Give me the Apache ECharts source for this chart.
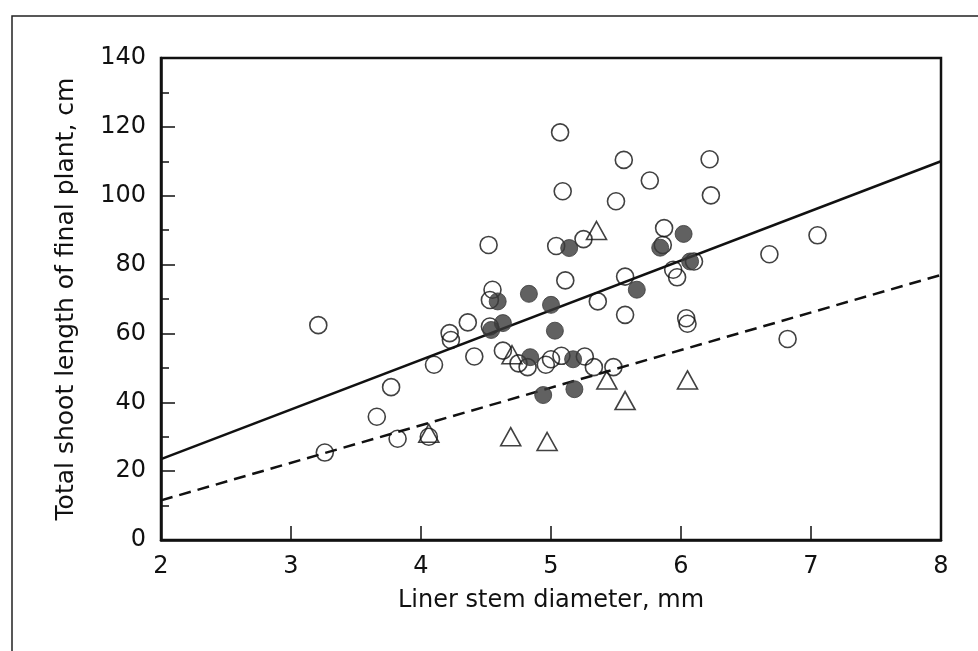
<!DOCTYPE html>
<html><head><meta charset="utf-8">
<script src="https://cdn.jsdelivr.net/npm/echarts@6/dist/echarts.min.js"></script>
<style>html,body{margin:0;padding:0;background:#fff}#c{width:978px;height:651px}</style>
</head><body><div id="c"></div>
<script>
var xTicks = [2,3,4,5,6,7,8];
var yTicks = [0,20,40,60,80,100,120,140];
var openCircles = [[3.21,62.4],[3.26,25.4],[3.66,35.8],[3.77,44.4],[3.82,29.4],[4.06,30.0],[4.10,50.9],[4.22,60.1],[4.23,58.1],[4.36,63.2],[4.41,53.3],[4.52,85.7],[4.55,72.7],[4.53,69.7],[4.53,62.0],[4.63,55.0],[4.75,51.3],[4.82,50.2],[4.96,50.9],[5.00,52.5],[5.08,53.5],[5.26,53.3],[5.33,50.2],[5.48,50.2],[5.07,118.4],[5.56,110.4],[5.09,101.3],[5.50,98.4],[5.04,85.4],[5.25,87.4],[5.11,75.4],[5.57,76.5],[5.36,69.3],[5.57,65.4],[6.22,110.6],[5.76,104.4],[6.23,100.1],[5.87,90.6],[5.86,85.7],[6.10,80.9],[5.94,78.5],[5.97,76.3],[6.04,64.4],[6.05,62.8],[7.05,88.5],[6.68,83.0],[6.82,58.4]];
var filledCircles = [[5.14,84.8],[4.83,71.5],[4.59,69.3],[5.00,68.3],[5.66,72.7],[4.54,61.0],[4.63,63.0],[5.03,60.8],[4.84,53.1],[5.17,52.5],[4.94,42.1],[5.18,43.8],[6.02,88.9],[5.84,84.9],[6.07,80.9]];
var triangles = [[4.06,31.0],[5.35,89.9],[4.70,53.8],[5.43,46.5],[5.57,40.5],[4.69,30.0],[4.97,28.6],[6.05,46.5]];
var solidFit = [[2,23.5],[8,110]];
var dashedFit = [[2,11.5],[8,77]];
var xTitle = 'Liner stem diameter, mm';
var yTitle = 'Total shoot length of final plant, cm';

var chart = echarts.init(document.getElementById('c'), null, {renderer:'canvas'});
var font = 'DejaVu Sans, sans-serif';
chart.setOption({
  backgroundColor:'#fff',
  animation:false,
  graphic:[{type:'rect', shape:{x:12,y:16,width:1000,height:700}, style:{fill:'none', stroke:'#222', lineWidth:1.5}, z:-1}],
  grid:{left:161, right:37, top:58, bottom:111, show:true, borderColor:'#111', borderWidth:2.5, backgroundColor:'transparent'},
  xAxis:{type:'value', min:2, max:8, interval:1,
    name:xTitle, nameLocation:'middle', nameGap:49,
    nameTextStyle:{fontFamily:font, fontSize:24, color:'#111'},
    axisLine:{show:true, onZero:false, lineStyle:{color:'#111', width:2.5}},
    axisTick:{show:true, inside:true, length:14, lineStyle:{color:'#111', width:1.5}},
    axisLabel:{fontFamily:font, fontSize:24, color:'#111', margin:15},
    splitLine:{show:false}},
  yAxis:{type:'value', min:0, max:140, interval:20,
    name:yTitle, nameLocation:'middle', nameGap:82,
    nameTextStyle:{fontFamily:font, fontSize:25, color:'#111'},
    axisLine:{show:true, onZero:false, lineStyle:{color:'#111', width:2.5}},
    axisTick:{show:true, inside:true, length:14, lineStyle:{color:'#111', width:1.5}},
    minorTick:{show:true, splitNumber:2, length:8, lineStyle:{color:'#111', width:1.5}},
    axisLabel:{fontFamily:font, fontSize:24, color:'#111', margin:15},
    splitLine:{show:false}},
  series:[
    {type:'line', data:solidFit, symbol:'none', lineStyle:{color:'#111', width:2.5}, z:1},
    {type:'line', data:dashedFit, symbol:'none', lineStyle:{color:'#111', width:2.5, type:[12,7]}, z:1},
    {type:'scatter', data:openCircles, symbol:'circle', symbolSize:17, itemStyle:{color:'rgba(255,255,255,0)', borderColor:'#111', borderWidth:1.6}, z:3},
    {type:'scatter', data:filledCircles, symbol:'circle', symbolSize:17, itemStyle:{color:'#3a3a3a', borderColor:'#3a3a3a', borderWidth:1}, z:4},
    {type:'scatter', data:triangles, symbol:'triangle', symbolSize:[20,18], itemStyle:{color:'rgba(255,255,255,0)', borderColor:'#111', borderWidth:1.6}, z:3}
  ]
});
</script></body></html>
